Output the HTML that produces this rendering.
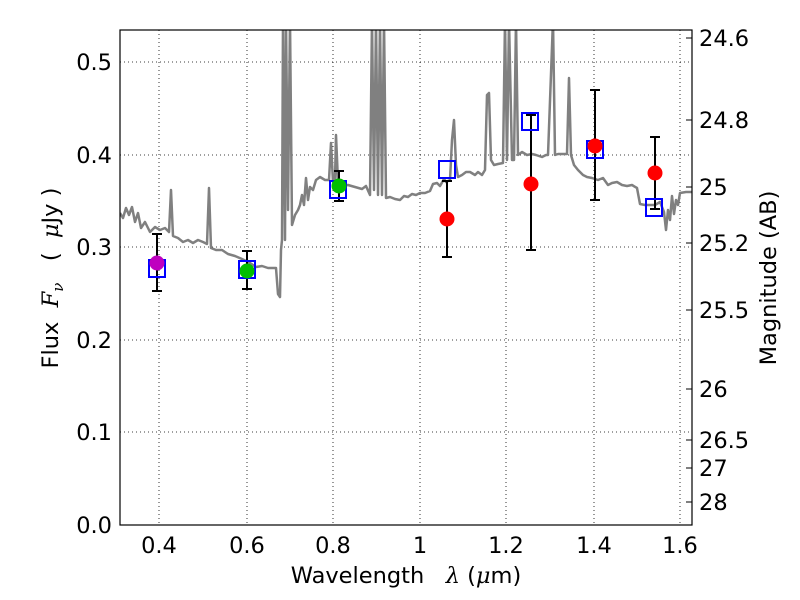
<!DOCTYPE html>
<html><head><meta charset="utf-8"><style>body{margin:0;background:#fff}svg{display:block}text{font-family:"DejaVu Sans","Liberation Sans",sans-serif;fill:#000}</style></head><body>
<svg width="800" height="600" viewBox="0 0 800 600">
<defs><clipPath id="c"><rect x="120" y="30" width="572" height="495"/></clipPath></defs>
<g stroke="#000" stroke-width="0.8" stroke-dasharray="1,3">
<line x1="159" y1="30" x2="159" y2="525"/><line x1="247" y1="30" x2="247" y2="525"/><line x1="333" y1="30" x2="333" y2="525"/><line x1="420" y1="30" x2="420" y2="525"/><line x1="506" y1="30" x2="506" y2="525"/><line x1="594" y1="30" x2="594" y2="525"/><line x1="680" y1="30" x2="680" y2="525"/>
<line x1="120" y1="62" x2="692" y2="62"/><line x1="120" y1="155" x2="692" y2="155"/><line x1="120" y1="247" x2="692" y2="247"/><line x1="120" y1="340" x2="692" y2="340"/><line x1="120" y1="432" x2="692" y2="432"/>
</g>
<g clip-path="url(#c)">
<polyline fill="none" stroke="#808080" stroke-width="2.5" stroke-linejoin="round" points="120,213 123,218 126,208 129,215 132,207 135,222 138,213 141,228 145,222 150,232 155,227 160,230 165,228 169,232 171,190 173,236 178,238 183,242 188,240 193,243 198,240 203,242 207,244 209,188 211,248 216,250 222,250 228,254 235,256 242,259 250,263 256,267 262,266 268,268 274,268 276,268 278,294 280,297 281,250 282,240 283,20 285,240 286,20 288,210 290,20 292,225 295,215 298,210 300,205 302,195 304,205 306,178 308,200 310,187 313,190 316,180 320,177 325,180 329,180 331,143 333,182 335,180 336,135 338,182 342,186 348,185 355,187 362,189 366,186 370,195 372,20 374,190 376,20 378,195 380,20 382,195 384,20 386,198 390,197 395,199 400,200 404,196 408,197 412,194 416,195 420,193 425,193 430,191 433,184 437,183 440,186 444,179 446,182 450,180 452,140 454,120 456,165 458,177 462,175 466,172 470,172 475,175 478,172 482,175 485,170 487,95 489,93 491,160 494,165 498,164 503,163 505,20 507,160 509,20 512,160 514,160 516,20 518,155 522,152 527,155 532,154 536,155 542,157 546,155 548,155 553,20 555,155 558,154 563,154 567,154 569,78 571,155 574,165 578,170 583,175 587,177 592,178 598,180 603,178 608,185 612,183 617,182 622,185 627,186 632,185 637,188 640,204 645,205 650,205 655,205 660,202 664,212 666,230 668,210 670,220 672,196 674,214 676,200 678,205 680,193 686,192 692,192"/>
</g>
<rect x="120" y="30" width="572" height="495" fill="none" stroke="#000" stroke-width="1.2"/>
<g stroke="#000" stroke-width="2">
<line x1="157" y1="234" x2="157" y2="291"/><line x1="152" y1="234" x2="162" y2="234"/><line x1="152" y1="291" x2="162" y2="291"/>
<line x1="247" y1="251" x2="247" y2="289"/><line x1="242" y1="251" x2="252" y2="251"/><line x1="242" y1="289" x2="252" y2="289"/>
<line x1="339" y1="171" x2="339" y2="201"/><line x1="334" y1="171" x2="344" y2="171"/><line x1="334" y1="201" x2="344" y2="201"/>
<line x1="447" y1="181" x2="447" y2="257"/><line x1="442" y1="181" x2="452" y2="181"/><line x1="442" y1="257" x2="452" y2="257"/>
<line x1="531" y1="115" x2="531" y2="250"/><line x1="526" y1="115" x2="536" y2="115"/><line x1="526" y1="250" x2="536" y2="250"/>
<line x1="595" y1="90" x2="595" y2="200"/><line x1="590" y1="90" x2="600" y2="90"/><line x1="590" y1="200" x2="600" y2="200"/>
<line x1="655" y1="137" x2="655" y2="209"/><line x1="650" y1="137" x2="660" y2="137"/><line x1="650" y1="209" x2="660" y2="209"/>
</g>
<g fill="none" stroke="#0000ff" stroke-width="2">
<rect x="149" y="260" width="16" height="17"/><rect x="239" y="261" width="16" height="17"/><rect x="330" y="181" width="16" height="17"/><rect x="439" y="161" width="16" height="17"/><rect x="522" y="113" width="16" height="17"/><rect x="587" y="141" width="16" height="17"/><rect x="646" y="199" width="16" height="17"/>
</g>
<circle cx="157" cy="263" r="7.5" fill="#bf00bf"/>
<circle cx="247" cy="271" r="7.5" fill="#00bf00"/>
<circle cx="339" cy="186" r="7.5" fill="#00bf00"/>
<circle cx="447" cy="219" r="7.5" fill="#ff0000"/>
<circle cx="531" cy="184" r="7.5" fill="#ff0000"/>
<circle cx="595" cy="146" r="7.5" fill="#ff0000"/>
<circle cx="655" cy="173" r="7.5" fill="#ff0000"/>
<g stroke="#000" stroke-width="1">
<line x1="686" y1="38" x2="692" y2="38"/><line x1="686" y1="120" x2="692" y2="120"/><line x1="686" y1="187" x2="692" y2="187"/><line x1="686" y1="243" x2="692" y2="243"/><line x1="686" y1="310" x2="692" y2="310"/><line x1="686" y1="389" x2="692" y2="389"/><line x1="686" y1="440" x2="692" y2="440"/><line x1="686" y1="468" x2="692" y2="468"/><line x1="686" y1="502" x2="692" y2="502"/>
</g>
<g font-size="22.5" text-anchor="end">
<text x="112" y="70">0.5</text><text x="112" y="163">0.4</text><text x="112" y="255">0.3</text><text x="112" y="348">0.2</text><text x="112" y="440">0.1</text><text x="112" y="533">0.0</text>
</g>
<g font-size="22.5" text-anchor="middle">
<text x="159" y="553">0.4</text><text x="247" y="553">0.6</text><text x="333" y="553">0.8</text><text x="420" y="553">1</text><text x="506" y="553">1.2</text><text x="594" y="553">1.4</text><text x="680" y="553">1.6</text>
<text x="406" y="583" xml:space="preserve">Wavelength   <tspan font-style="italic" font-family="DejaVu Serif,serif">λ</tspan> (<tspan font-style="italic" font-family="DejaVu Serif,serif">μ</tspan>m)</text>
</g>
<g font-size="22.5">
<text x="699" y="46">24.6</text><text x="699" y="128">24.8</text><text x="699" y="195">25</text><text x="699" y="251">25.2</text><text x="699" y="318">25.5</text><text x="699" y="397">26</text><text x="699" y="448">26.5</text><text x="699" y="476">27</text><text x="699" y="510">28</text>
</g>
<text font-size="22.5" transform="translate(58,278) rotate(-90)" text-anchor="middle" xml:space="preserve">Flux  <tspan font-style="italic" font-family="DejaVu Serif,serif">F</tspan><tspan font-style="italic" font-family="DejaVu Serif,serif" font-size="15" dy="5">ν</tspan><tspan dy="-5">   (  </tspan><tspan font-style="italic" font-family="DejaVu Serif,serif">μ</tspan>Jy )</text>
<text font-size="22.5" transform="translate(776,278) rotate(-90)" text-anchor="middle">Magnitude (AB)</text>
</svg>
</body></html>
